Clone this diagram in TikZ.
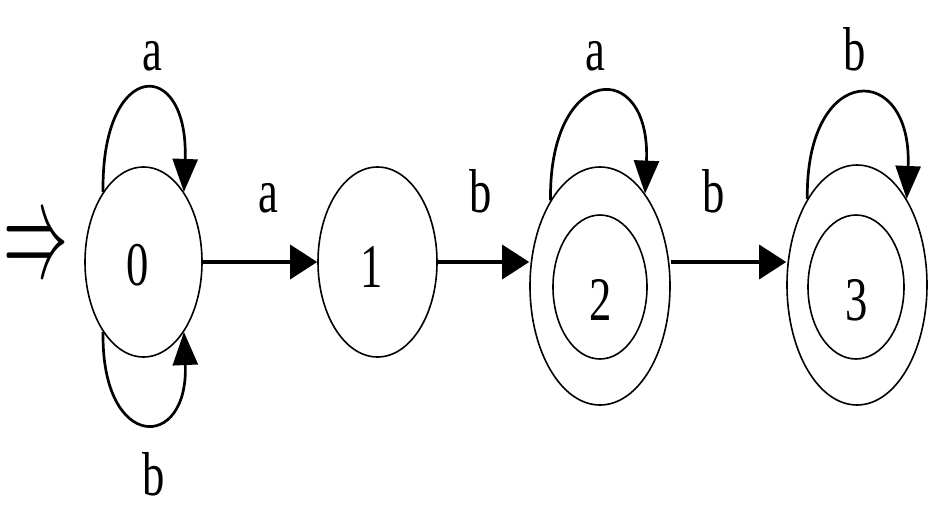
\documentclass[tikz,border=0pt]{standalone}
\usepackage{fontspec}
\setmainfont{Liberation Serif}[FakeStretch=0.72]
\usetikzlibrary{shapes.geometric,arrows.meta}
\begin{document}
\begin{tikzpicture}[x=1pt,y=-1pt,
  st/.style={draw,ellipse,inner sep=0pt,line width=1.6pt},
  tr/.style={line width=3.4pt,-{Triangle[length=27pt,width=34pt]}},
  lp/.style={line width=2.7pt,-{Triangle[length=33pt,width=25pt]}},
  lb/.style={inner sep=0pt,anchor=base,font=\fontsize{62}{62}\selectfont}]
\useasboundingbox (0,0) rectangle (943,530);
% states
\node[st,minimum width=117pt,minimum height=190pt] (s0) at (143.5,262) {};
\node[st,minimum width=119pt,minimum height=190pt] (s1) at (377.5,262) {};
\node[st,minimum width=140pt,minimum height=238pt] (s2) at (600,286) {};
\node[st,minimum width=94pt,minimum height=144pt] (s2i) at (600,287) {};
\node[st,minimum width=140pt,minimum height=240pt] (s3) at (857,285) {};
\node[st,minimum width=96pt,minimum height=144pt] (s3i) at (856,287) {};
% state names
\node[lb] (t0) at (137.5,285) {0};
\node[lb] (t1) at (372,287) {1};
\node[lb] (t2) at (601,320) {2};
\node[lb] (t3) at (857,320) {3};
% initial marker
\node[inner sep=0pt] (init) at (35.5,251) {\resizebox{65pt}{50pt}{$\Rightarrow$}};
% transitions
\draw[tr] (s0.east) -- (s1.west);
\draw[tr] (s1.east) -- (s1.east -| s2.west);
\draw[tr] (s2.east |- s1.east) -- (s3.west |- s1.east);
% loops
\draw[lp] (s0.120) .. controls +(-2,-134) and +(5,-136) .. (s0.60);
\draw[lp] (s0.240) .. controls +(-2,120) and +(5,120) .. (s0.300);
\draw[lp] (s2.120) .. controls +(-2,-137) and +(6,-137) .. (s2.64);
\draw[lp] (s3.120) .. controls +(-2,-138) and +(6,-138) .. (s3.60);
% labels
\node[lb] (la0) at (152,70) {a};
\node[lb] (lb0) at (154,495) {b};
\node[lb] (l01) at (268,212) {a};
\node[lb] (l12) at (481,212) {b};
\node[lb] (l23) at (714,212) {b};
\node[lb] (la2) at (595,70) {a};
\node[lb] (lb3) at (855,70) {b};
\end{tikzpicture}
\end{document}
